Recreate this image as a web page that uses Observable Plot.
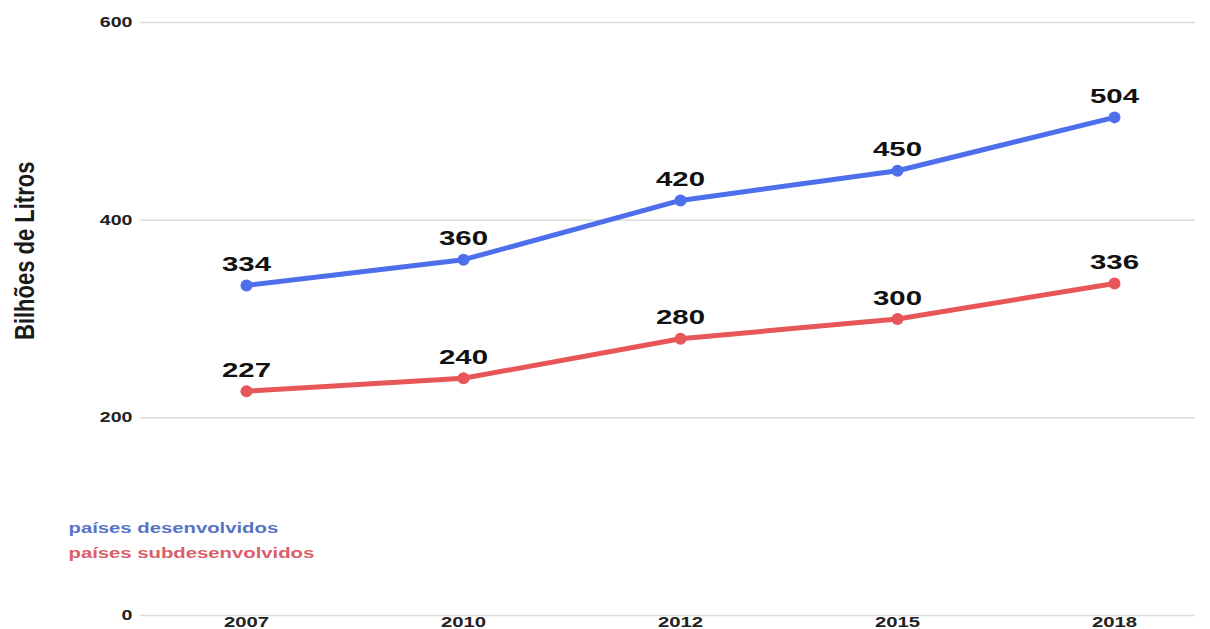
<!DOCTYPE html>
<html>
<head>
<meta charset="utf-8">
<script src="https://cdn.jsdelivr.net/npm/d3@7"></script>
<script src="https://cdn.jsdelivr.net/npm/@observablehq/plot@0.6"></script>
<style>
  html, body { margin: 0; padding: 0; background: #fff; }
  #chart svg { display: block; }
</style>
</head>
<body>
<div id="chart"></div>
<script>
const years = ["2007", "2010", "2012", "2015", "2018"];
const developed = [334, 360, 420, 450, 504];
const underdeveloped = [227, 240, 280, 300, 336];
const seriesNames = ["países desenvolvidos", "países subdesenvolvidos"];
const yTicks = [0, 200, 400, 600];
const yTitle = "Bilhões de Litros";

const lineColors = ["#4e6fec", "#e8565a"];
const legendColors = ["#5873c6", "#d9606a"];

const rows = [
  ...years.map((y, i) => ({year: y, value: developed[i], series: seriesNames[0]})),
  ...years.map((y, i) => ({year: y, value: underdeveloped[i], series: seriesNames[1]}))
];

const font = "'Liberation Sans', Arial, sans-serif";

const chart = Plot.plot({
  width: 1210,
  height: 629,
  marginTop: 22,
  marginBottom: 14,
  marginLeft: 140,
  marginRight: 15,
  style: {fontFamily: font, background: "#fff", overflow: "visible"},
  x: {type: "point", domain: years, range: [246, 1114], padding: 0},
  y: {domain: [0, 600]},
  color: {domain: seriesNames, range: lineColors},
  marks: [
    Plot.ruleY(yTicks, {stroke: "#dcdcdc", strokeWidth: 1.5}),
    Plot.axisY({ticks: yTicks, tickSize: 0, tickPadding: 8, label: null, fontSize: 14, fontWeight: "bold", fill: "#222"}),
    Plot.axisX({tickSize: 0, tickPadding: 1.5, label: null, fontSize: 14.5, fontWeight: "bold", fill: "#222"}),
    Plot.line(rows, {x: "year", y: "value", z: "series", stroke: "series", strokeWidth: 5, strokeLinejoin: "round", strokeLinecap: "round"}),
    Plot.dot(rows, {x: "year", y: "value", fill: "series", r: 6}),
    Plot.text(rows, {x: "year", y: "value", text: d => String(d.value), dy: -21, lineAnchor: "middle", fontSize: 21, fontWeight: "bold", fill: "#111"}),
    Plot.text([yTitle], {frameAnchor: "left", text: d => d, rotate: -90, dx: -115, dy: 21, lineAnchor: "middle", fontSize: 22, fontWeight: "bold", fill: "#1a1a1a"}),
    Plot.text([seriesNames[0]], {frameAnchor: "bottom-left", text: d => d, dx: -72, dy: -87, textAnchor: "start", lineAnchor: "middle", fontSize: 14.5, fontWeight: "bold", fill: legendColors[0]}),
    Plot.text([seriesNames[1]], {frameAnchor: "bottom-left", text: d => d, dx: -72, dy: -62, textAnchor: "start", lineAnchor: "middle", fontSize: 14.5, fontWeight: "bold", fill: legendColors[1]})
  ]
});

// The reference renders its text horizontally widened; reproduce that look.
const SX = 1.4, SR = 1.25;
chart.querySelectorAll("text").forEach(t => {
  const tr = t.getAttribute("transform") || "";
  const x = +(t.getAttribute("x") || 0);
  if (tr.includes("rotate")) {
    t.setAttribute("transform", `${tr} scale(1,${SR})`);
  } else {
    t.setAttribute("transform", `${tr} translate(${x},0) scale(${SX},1) translate(${-x},0)`);
  }
});

document.getElementById("chart").appendChild(chart);
</script>
</body>
</html>
